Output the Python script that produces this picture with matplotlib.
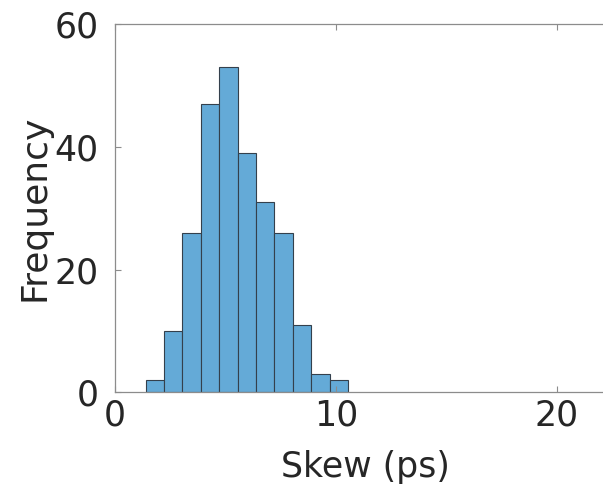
import numpy as np
import matplotlib
matplotlib.use('Agg')
import matplotlib.pyplot as plt

# histogram of skew values (ps)
bin_start = 1.39
bin_width = 0.832
counts = [2, 10, 26, 47, 53, 39, 31, 26, 11, 3, 2]
edges = bin_start + bin_width*np.arange(len(counts) + 1)

xticks = [0, 10, 20]
yticks = [0, 20, 40, 60]

fig = plt.figure(figsize=(6.03, 4.86), dpi=100)
ax = fig.add_axes([115/603, 1 - 392/486, (615 - 115)/603, (392 - 24.5)/486])

ax.hist(edges[:-1], bins=edges, weights=counts,
        color='#64aad7', edgecolor='#34404c', linewidth=0.8)

ax.set_xlim(0, 500/22.1)
ax.set_ylim(0, 60)
ax.set_xticks(xticks)
ax.set_yticks(yticks)

for s in ax.spines.values():
    s.set_color('#8c8c8c')
    s.set_linewidth(0.9)
ax.spines['right'].set_visible(False)

ax.tick_params(direction='in', length=4, width=0.8, color='#8c8c8c',
               labelsize=25, labelcolor='#262626', top=True)
ax.tick_params(axis='y', pad=12)
ax.tick_params(axis='x', pad=5)

ax.set_xlabel('Skew (ps)', fontsize=25, color='#262626', labelpad=12)
ax.set_ylabel('Frequency', fontsize=26, color='#262626', labelpad=2)

fig.savefig('out.png', dpi=100)
